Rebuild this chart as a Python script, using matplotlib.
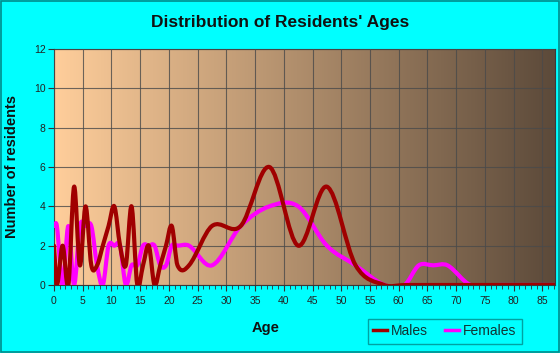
import numpy as np
import matplotlib
matplotlib.use("Agg")
import matplotlib.pyplot as plt
from matplotlib.path import Path
from matplotlib.patches import PathPatch
from matplotlib.lines import Line2D

# age bracket positions (midpoints) and counts
ages = [0, 0.5, 1.5, 2.5, 3.5, 4.5, 5.5, 6.5, 7.5, 8.5, 9.5, 10.5, 11.5, 12.5, 13.5,
        14.5, 15.5, 16.5, 17.5, 18.5, 19.5, 20.5, 21.5, 23.5, 27.5, 32.5, 37.5,
        42.5, 47.5, 52.5, 57.5, 61, 63.5, 66, 68.5, 72.5, 77.5, 82.5, 87.5]
males = [2, 0, 2, 0, 5, 1, 4, 1, 1, 2, 3, 4, 2, 1, 4,
         0, 1, 2, 0, 1, 2, 3, 1, 1, 3, 3, 6,
         2, 5, 1, 0, 0, 0, 0, 0, 0, 0, 0, 0]
females = [3, 3, 0, 3, 0, 3, 3, 3, 1, 0, 2, 2, 2, 0, 1,
           1, 2, 2, 2, 1, 1, 2, 2, 2, 1, 3, 4,
           4, 2, 1, 0, 0, 1, 1, 1, 0, 0, 0, 0]

x_ticks = list(range(0, 90, 5))
y_ticks = list(range(0, 13, 2))

BG = "#00FFFF"
EDGE = "#008B8B"


def smooth_path(xs, ys):
    # cubic hermite segments as bezier curves (cardinal spline)
    xs = np.asarray(xs, float)
    ys = np.asarray(ys, float)
    n = len(xs)
    m = np.zeros(n)
    m[0] = (ys[1] - ys[0]) / (xs[1] - xs[0])
    m[-1] = (ys[-1] - ys[-2]) / (xs[-1] - xs[-2])
    m[1:-1] = (ys[2:] - ys[:-2]) / (xs[2:] - xs[:-2])
    verts = [(xs[0], ys[0])]
    codes = [Path.MOVETO]
    for i in range(n - 1):
        h = xs[i + 1] - xs[i]
        verts += [(xs[i] + h / 3, ys[i] + m[i] * h / 3),
                  (xs[i + 1] - h / 3, ys[i + 1] - m[i + 1] * h / 3),
                  (xs[i + 1], ys[i + 1])]
        codes += [Path.CURVE4] * 3
    return Path(verts, codes)


plt.rcParams['font.family'] = ['Liberation Sans', 'DejaVu Sans']

fig = plt.figure(figsize=(5.6, 3.53), dpi=100, facecolor=BG)
fig.patches.append(plt.Rectangle((0.001, 0.002), 0.997, 0.995, transform=fig.transFigure,
                                 fill=False, edgecolor=EDGE, linewidth=1.2))
ax = fig.add_axes([0.0964, 0.1926, 0.8946, 0.6686])

# background gradient, peach to dark brown
left = np.array([255, 206, 155]) / 255
right = np.array([92, 74, 58]) / 255
t = np.linspace(0, 1, 256)[None, :, None]
grad = left + (right - left) * t
ax.imshow(grad, extent=[0, 87.2, 0, 12], aspect='auto', zorder=0)

ax.set_xlim(0, 87.2)
ax.set_ylim(0, 12)
ax.set_xticks(x_ticks)
ax.set_xticks(range(0, 88), minor=True)
ax.set_yticks(y_ticks)
ax.grid(True, color="#4a4a4a", linewidth=0.8, alpha=0.8, zorder=1)
ax.set_axisbelow(False)

fem = PathPatch(smooth_path(ages, females), fill=False, edgecolor="#FF00FF",
                linewidth=3.0, zorder=3, capstyle='round', joinstyle='round')
mal = PathPatch(smooth_path(ages, males), fill=False, edgecolor="#A00000",
                linewidth=3.0, zorder=4, capstyle='round', joinstyle='round')
ax.add_patch(fem)
ax.add_patch(mal)

for s in ax.spines.values():
    s.set_color("#3a3a3a")
    s.set_linewidth(0.8)
ax.tick_params(axis='both', which='both', colors="#333333", labelsize=7.5, direction='out')
ax.tick_params(axis='x', which='major', length=4, pad=4)
ax.tick_params(axis='x', which='minor', length=3)
ax.tick_params(axis='y', length=4, pad=2)
for lab in ax.get_xticklabels() + ax.get_yticklabels():
    lab.set_color("#222222")

fig.text(0.5, 0.935, "Distribution of Residents' Ages", ha='center', va='center',
         fontsize=12.5, fontweight='bold', color="#111111")
fig.text(0.475, 0.072, "Age", ha='center', va='center', fontsize=10.5,
         fontweight='bold', color="#111111")
fig.text(0.022, 0.527, "Number of residents", ha='center', va='center', rotation=90,
         fontsize=10.5, fontweight='bold', color="#111111")

handles = [Line2D([], [], color="#A00000", linewidth=2.5),
           Line2D([], [], color="#FF00FF", linewidth=2.5)]
leg = fig.legend(handles, ["Males", "Females"], loc='center',
                 bbox_to_anchor=(0.794, 0.062), ncol=2, fontsize=10,
                 frameon=True, fancybox=False, handlelength=1.0, handletextpad=0.3,
                 columnspacing=1.2, borderpad=0.4)
leg.get_frame().set_facecolor(BG)
leg.get_frame().set_edgecolor(EDGE)
leg.get_frame().set_linewidth(1.0)
for txt in leg.get_texts():
    txt.set_color("#113333")

fig.savefig("out.png", dpi=100, facecolor=BG)
